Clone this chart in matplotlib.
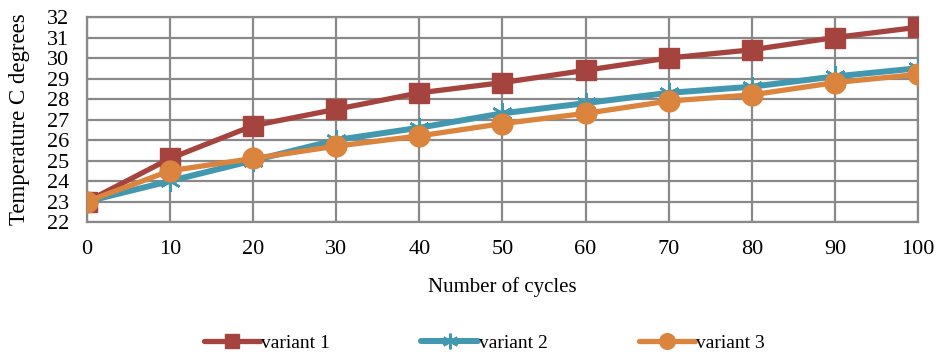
import matplotlib
matplotlib.use("Agg")
import matplotlib.pyplot as plt

cycles = [0, 10, 20, 30, 40, 50, 60, 70, 80, 90, 100]
variant1 = [23.0, 25.1, 26.7, 27.5, 28.3, 28.8, 29.4, 30.0, 30.4, 31.0, 31.5]
variant2 = [23.0, 24.0, 25.0, 26.0, 26.6, 27.3, 27.8, 28.3, 28.6, 29.1, 29.5]
variant3 = [23.0, 24.5, 25.1, 25.7, 26.2, 26.8, 27.3, 27.9, 28.2, 28.8, 29.2]
labels = ["variant 1", "variant 2", "variant 3"]
yticks = list(range(22, 33))

plt.rcParams['font.family'] = ['Liberation Serif', 'DejaVu Serif']

fig = plt.figure(figsize=(9.37, 3.54), dpi=100)
ax = fig.add_axes([87/937, 1-222/354, (918-87)/937, (222-17)/354])

c1, c2, c3 = '#A5443F', '#4198AF', '#DB843D'
ax.plot(cycles, variant1, color=c1, lw=3.8, marker='s', ms=14, mec=c1, mfc=c1,
        label=labels[0], zorder=3, solid_capstyle='round')
ax.plot(cycles, variant2, color=c2, lw=4.3, marker=(6, 2, 0), ms=15, mec=c2, mew=1.8,
        label=labels[1], zorder=4, solid_capstyle='round')
ax.plot(cycles, variant3, color=c3, lw=3.8, marker='o', ms=15, mec=c3, mfc=c3,
        label=labels[2], zorder=5, solid_capstyle='round')

ax.set_xlim(0, 100)
ax.set_ylim(22, 32)
ax.set_xticks(cycles)
ax.set_yticks(yticks)
ax.grid(True, color='#898989', lw=1.6)
ax.set_axisbelow(True)
for s in ax.spines.values():
    s.set_color('#898989')
    s.set_linewidth(1.6)
ax.tick_params(length=0, labelsize=16)
ax.tick_params(axis='y', pad=13)
ax.tick_params(axis='x', pad=13)
ax.set_xlabel('Number of cycles', fontsize=15, labelpad=13)
ax.set_ylabel('Temperature C degrees', fontsize=16.5, labelpad=12)

leg = fig.legend(loc='center', bbox_to_anchor=(484.5/937, 1-343/354), ncol=3,
                 frameon=False, fontsize=14, handlelength=2.9, handletextpad=0.05,
                 columnspacing=4.7, markerscale=0.75, borderaxespad=0, borderpad=0)

fig.savefig('out.png', dpi=100)
